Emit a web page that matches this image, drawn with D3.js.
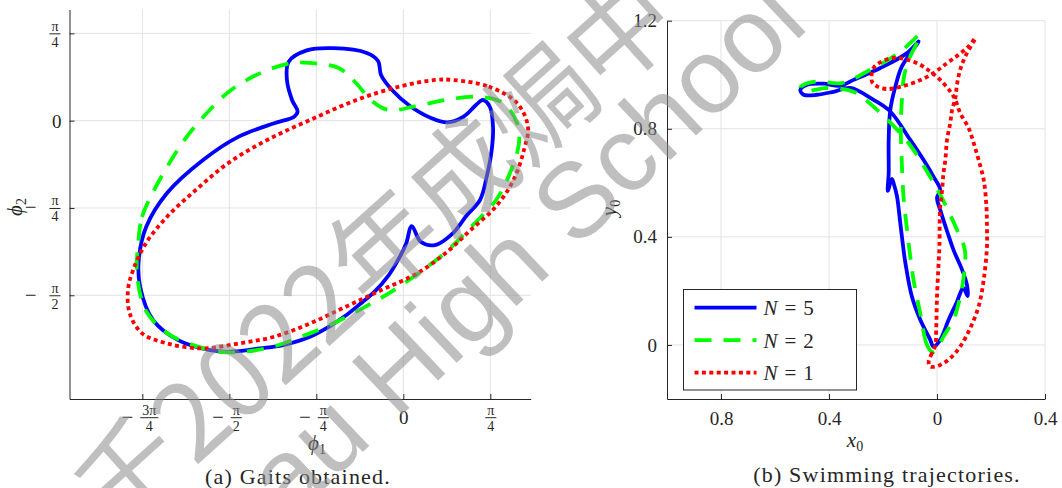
<!DOCTYPE html>
<html>
<head>
<meta charset="utf-8">
<script src="https://cdn.jsdelivr.net/npm/d3@7"></script>
<style>
  html, body { margin: 0; padding: 0; background: #fff; }
  svg { display: block; }
</style>
</head>
<body>
<svg id="chart" width="1062" height="488"></svg>
<script>
// ---- data -------------------------------------------------------------

// (a) gaits in the (phi1, phi2) plane, radians
const gaitN5 = [
  [-0.955, 0.081], [-1.005, 0.186], [-1.051, 0.366], [-1.035, 0.531], [-0.872, 0.632],
  [-0.632, 0.652], [-0.330, 0.609], [-0.228, 0.537], [-0.201, 0.411], [-0.102, 0.276],
  [0.060, 0.132], [0.250, 0.024], [0.399, -0.016], [0.544, 0.036], [0.656, 0.141],
  [0.719, 0.186], [0.782, 0.123], [0.810, -0.057], [0.798, -0.264], [0.753, -0.504],
  [0.692, -0.714], [0.575, -0.849], [0.449, -1.011], [0.286, -1.119], [0.157, -1.089],
  [0.076, -0.948], [0.024, -1.110], [-0.048, -1.254], [-0.138, -1.398], [-0.255, -1.533],
  [-0.391, -1.650], [-0.526, -1.758], [-0.662, -1.848], [-0.842, -1.944], [-1.086, -2.019],
  [-1.294, -2.049], [-1.555, -2.079], [-1.745, -2.064], [-2.033, -1.974], [-2.259, -1.794],
  [-2.376, -1.497], [-2.389, -1.254], [-2.322, -0.957], [-2.133, -0.651], [-1.808, -0.354],
  [-1.486, -0.144], [-1.166, -0.023], [-0.986, 0.036]
];
const gaitN2 = [
  [-2.395, -1.119], [-2.359, -0.867], [-2.250, -0.624], [-2.133, -0.417], [-1.985, -0.185],
  [-1.807, 0.033], [-1.555, 0.276], [-1.261, 0.441], [-1.005, 0.519], [-0.842, 0.519],
  [-0.584, 0.474], [-0.427, 0.339], [-0.294, 0.186], [-0.133, 0.096], [0.093, 0.126],
  [0.383, 0.186], [0.674, 0.216], [0.900, 0.159], [1.026, -0.021], [1.044, -0.201],
  [0.963, -0.471], [0.837, -0.714], [0.611, -0.957], [0.385, -1.182], [0.151, -1.362],
  [-0.084, -1.524], [-0.365, -1.686], [-0.662, -1.839], [-0.932, -1.947], [-1.158, -2.028],
  [-1.429, -2.078], [-1.654, -2.079], [-1.898, -2.019], [-2.133, -1.911], [-2.322, -1.713],
  [-2.404, -1.389]
];
const gaitN1 = [
  [0.449, 0.366], [0.770, 0.306], [1.026, 0.159], [1.125, -0.054], [1.089, -0.264],
  [0.995, -0.534], [0.834, -0.774], [0.608, -0.984], [0.383, -1.191], [0.124, -1.374],
  [-0.198, -1.524], [-0.520, -1.674], [-0.842, -1.824], [-1.167, -1.944], [-1.486, -2.004],
  [-1.808, -2.049], [-2.133, -2.004], [-2.358, -1.914], [-2.470, -1.734], [-2.486, -1.524],
  [-2.440, -1.344], [-2.325, -1.104], [-2.133, -0.864], [-1.874, -0.624], [-1.583, -0.383],
  [-1.230, -0.174], [-0.842, 0.006], [-0.423, 0.186], [-0.039, 0.306], [0.286, 0.366]
];

// (b) swimming trajectories (x0, y0)
const trajN5 = [
  [-0.013, -0.006], [0.012, 0.019], [0.043, 0.093], [0.074, 0.160], [0.097, 0.211],
  [0.113, 0.181], [0.111, 0.222], [0.093, 0.278], [0.061, 0.352], [0.038, 0.419],
  [0.012, 0.500], [0.000, 0.544], [0.012, 0.574], [-0.013, 0.623], [-0.050, 0.685],
  [-0.099, 0.759], [-0.173, 0.864], [-0.235, 0.907], [-0.321, 0.951], [-0.383, 0.937],
  [-0.444, 0.926], [-0.494, 0.926], [-0.506, 0.944], [-0.481, 0.963], [-0.420, 0.967],
  [-0.358, 0.959], [-0.309, 0.981], [-0.210, 1.025], [-0.111, 1.080], [-0.068, 1.123],
  [-0.130, 1.031], [-0.154, 0.957], [-0.173, 0.870], [-0.179, 0.759], [-0.179, 0.636],
  [-0.182, 0.570], [-0.167, 0.615], [-0.158, 0.589], [-0.148, 0.549], [-0.136, 0.451],
  [-0.124, 0.352], [-0.117, 0.303], [-0.093, 0.179], [-0.062, 0.093], [-0.025, 0.019]
];
const trajN2 = [
  [-0.017, -0.026], [-0.037, 0.000], [-0.062, 0.117], [-0.087, 0.241], [-0.099, 0.327],
  [-0.111, 0.426], [-0.124, 0.549], [-0.130, 0.667], [-0.134, 0.796], [-0.130, 0.907],
  [-0.121, 1.000], [-0.099, 1.068], [-0.062, 1.148], [-0.142, 1.080], [-0.259, 1.012],
  [-0.352, 0.969], [-0.444, 0.975], [-0.494, 0.963], [-0.506, 0.952], [-0.481, 0.941],
  [-0.407, 0.951], [-0.309, 0.937], [-0.222, 0.870], [-0.136, 0.784], [-0.087, 0.722],
  [-0.037, 0.642], [0.012, 0.556], [0.074, 0.426], [0.103, 0.352], [0.099, 0.253],
  [0.080, 0.154], [0.061, 0.093], [0.024, 0.031], [-0.003, -0.019]
];
const trajN1 = [
  [-0.006, 0.000], [-0.019, -0.031], [-0.031, -0.062], [-0.025, -0.080], [0.012, -0.074],
  [0.049, -0.049], [0.086, -0.006], [0.123, 0.062], [0.154, 0.142], [0.173, 0.241],
  [0.185, 0.364], [0.185, 0.438], [0.183, 0.512], [0.173, 0.611], [0.154, 0.685],
  [0.136, 0.747], [0.117, 0.803], [0.086, 0.858], [0.068, 0.907], [0.049, 0.938],
  [0.012, 0.981], [-0.025, 1.012], [-0.062, 1.037], [-0.111, 1.056], [-0.161, 1.062],
  [-0.204, 1.049], [-0.235, 1.025], [-0.241, 0.975], [-0.222, 0.957], [-0.185, 0.947],
  [-0.130, 0.957], [-0.074, 0.975], [-0.013, 1.006], [0.037, 1.043], [0.080, 1.074],
  [0.117, 1.105], [0.142, 1.136], [0.105, 1.068], [0.086, 1.019], [0.074, 0.963],
  [0.068, 0.914], [0.056, 0.870], [0.049, 0.821], [0.037, 0.759], [0.031, 0.685],
  [0.024, 0.636], [0.019, 0.574], [0.012, 0.512], [0.010, 0.451], [0.009, 0.364],
  [0.006, 0.303], [0.000, 0.179], [-0.003, 0.056]
];

const legendN = [5, 2, 1];

// ticks
const phi1Ticks = [-3 * Math.PI / 4, -Math.PI / 2, -Math.PI / 4, 0, Math.PI / 4];
const phi1TickLabels = [["−", "3π", "4"], ["−", "π", "2"], ["−", "π", "4"], "0", ["", "π", "4"]];
const phi2Ticks = [-Math.PI / 2, -Math.PI / 4, 0, Math.PI / 4];
const phi2TickLabels = [["−", "π", "2"], ["−", "π", "4"], "0", ["", "π", "4"]];
const x0Ticks = [-0.8, -0.4, 0, 0.4];
const x0TickLabels = ["0.8", "0.4", "0", "0.4"];
const y0Ticks = [0, 0.4, 0.8, 1.2];
const y0TickLabels = ["0", "0.4", "0.8", "1.2"];

const captions = ["(a) Gaits obtained.", "(b) Swimming trajectories."];
const watermarkLines = ["千2022年成焗中", "au High School"];

// ---- drawing ----------------------------------------------------------

const serif = "'Liberation Serif', 'Times New Roman', 'DejaVu Serif', serif";
const svg = d3.select("#chart").attr("font-family", serif);
const ink = "#262626";
const gridColor = "#e2e2e2";
const styles = [
  { color: "#0000ff", dash: null },
  { color: "#00ff00", dash: "17,12" },
  { color: "#ff0000", dash: "4,3.4" }
];

const gaitX = d3.scaleLinear().domain([-3.014, 1.15]).range([69.5, 530.7]);
const gaitY = d3.scaleLinear().domain([-2.504, 1.0]).range([399, 9.5]);
const trajX = d3.scaleLinear().domain([-1.0, 0.4]).range([667, 1045]);
const trajY = d3.scaleLinear().domain([-0.2, 1.2]).range([399, 20.7]);

function drawGrid(x, y, xt, yt) {
  const g = svg.append("g").attr("stroke", gridColor).attr("stroke-width", 1);
  g.selectAll(".gv").data(xt).join("line")
    .attr("x1", d => x(d)).attr("x2", d => x(d))
    .attr("y1", y.range()[0]).attr("y2", y.range()[1]);
  g.selectAll(".gh").data(yt).join("line")
    .attr("y1", d => y(d)).attr("y2", d => y(d))
    .attr("x1", x.range()[0]).attr("x2", x.range()[1]);
}

// fraction tick labels like -3π/4, built as one text element
function fracLabel(tick, spec, mode) {
  const g = tick.append("g").attr("fill", ink).attr("font-family", serif);
  if (typeof spec === "string") {
    g.append("text").text(spec).attr("font-size", 19)
      .attr("text-anchor", mode === "bottom" ? "middle" : "end")
      .attr("x", mode === "bottom" ? 0 : -8)
      .attr("y", mode === "bottom" ? 25 : 6.5);
    return;
  }
  const [sign, num, den] = spec;
  const t = g.append("text");
  const minus = sign ? t.append("tspan").attr("font-size", 21).text(sign) : null;
  const numT = t.append("tspan").attr("font-size", 14).attr("text-anchor", "middle").text(num);
  const denT = t.append("tspan").attr("font-size", 14).attr("text-anchor", "middle").text(den);
  const mw = minus ? minus.node().getComputedTextLength() : 0;
  const fw = Math.max(numT.node().getComputedTextLength(), denT.node().getComputedTextLength()) + 4;
  const gap = minus ? 1 : 0;
  const total = mw + gap + fw;
  const left = mode === "bottom" ? -total / 2 : -9 - total;
  const barY = mode === "bottom" ? 18.7 : 0;
  if (minus) minus.attr("x", left).attr("y", barY + 6);
  const cx = left + mw + gap + fw / 2;
  numT.attr("x", cx).attr("y", barY - 3.2);
  denT.attr("x", cx).attr("y", barY + 12.8);
  g.append("line")
    .attr("x1", left + mw + gap).attr("x2", left + total)
    .attr("y1", barY).attr("y2", barY)
    .attr("stroke", ink).attr("stroke-width", 1);
}

function styleAxis(g) {
  g.attr("font-size", null).attr("font-family", serif);
  g.select(".domain").attr("stroke", ink);
  g.selectAll(".tick line").attr("stroke", ink);
  g.selectAll(".tick text").attr("fill", ink).attr("font-size", 19);
}

// panel (a)
drawGrid(gaitX, gaitY, phi1Ticks, phi2Ticks);

const gaitXAxis = svg.append("g")
  .attr("transform", "translate(0,399)")
  .call(d3.axisBottom(gaitX).tickValues(phi1Ticks).tickSizeInner(-5).tickSizeOuter(0).tickFormat(() => ""));
styleAxis(gaitXAxis);
gaitXAxis.selectAll(".tick").each(function (d, i) {
  const t = d3.select(this);
  t.select("text").remove();
  fracLabel(t, phi1TickLabels[i], "bottom");
});

const gaitYAxis = svg.append("g")
  .attr("transform", "translate(69.5,0)")
  .call(d3.axisLeft(gaitY).tickValues(phi2Ticks).tickSizeInner(-5).tickSizeOuter(0).tickFormat(() => ""));
styleAxis(gaitYAxis);
gaitYAxis.selectAll(".tick").each(function (d, i) {
  const t = d3.select(this);
  t.select("text").remove();
  fracLabel(t, phi2TickLabels[i], "left");
});

// panel (b)
drawGrid(trajX, trajY, x0Ticks, y0Ticks);

const trajXAxis = svg.append("g")
  .attr("transform", "translate(0,399)")
  .call(d3.axisBottom(trajX).tickValues(x0Ticks).tickSizeInner(-5).tickSizeOuter(0)
    .tickPadding(12.5).tickFormat((d, i) => x0TickLabels[i]));
styleAxis(trajXAxis);

const trajYAxis = svg.append("g")
  .attr("transform", "translate(667,0)")
  .call(d3.axisLeft(trajY).tickValues(y0Ticks).tickSizeInner(-5).tickSizeOuter(0)
    .tickPadding(10).tickFormat((d, i) => y0TickLabels[i]));
styleAxis(trajYAxis);

// curves
const gaitLine = d3.line().x(d => gaitX(d[0])).y(d => gaitY(d[1]))
  .curve(d3.curveCatmullRomClosed.alpha(0.5));
const trajLine = d3.line().x(d => trajX(d[0])).y(d => trajY(d[1]))
  .curve(d3.curveCatmullRomClosed.alpha(0.5));

function drawCurves(data, line) {
  svg.append("g").attr("fill", "none")
    .selectAll("path").data(data).join("path")
    .attr("d", line)
    .attr("stroke", (d, i) => styles[i].color)
    .attr("stroke-width", 3.8)
    .attr("stroke-linejoin", "round")
    .attr("stroke-dasharray", (d, i) => styles[i].dash);
}
drawCurves([gaitN5, gaitN2, gaitN1], gaitLine);
drawCurves([trajN5, trajN2, trajN1], trajLine);

// axis labels
function mathLabel(x, y, sym, sub, rotate) {
  const t = svg.append("text")
    .attr("transform", `translate(${x},${y})` + (rotate ? " rotate(-90)" : ""))
    .attr("text-anchor", "middle").attr("fill", ink).attr("font-family", serif);
  t.append("tspan").attr("font-style", "italic").attr("font-size", 21).text(sym);
  t.append("tspan").attr("font-size", 14).attr("dy", 4).text(sub);
}
mathLabel(317, 450, "ϕ", "1", false);
mathLabel(22, 207, "ϕ", "2", true);
mathLabel(855, 447, "x", "0", false);
mathLabel(616, 208, "y", "0", true);

// legend
const legend = svg.append("g").attr("transform", "translate(683.5,289.5)");
legend.append("rect").attr("width", 173).attr("height", 100.5)
  .attr("fill", "#fff").attr("stroke", ink).attr("stroke-width", 1);
const rows = legend.selectAll(".row").data(legendN).join("g")
  .attr("transform", (d, i) => `translate(0,${18.2 + i * 32.5})`);
rows.append("line").attr("x1", 11).attr("x2", 73)
  .attr("stroke", (d, i) => styles[i].color)
  .attr("stroke-width", 3.8)
  .attr("stroke-dasharray", (d, i) => styles[i].dash);
const rowText = rows.append("text").attr("x", 80).attr("y", 7.5)
  .attr("font-size", 21).attr("fill", ink).attr("font-family", serif);
rowText.append("tspan").attr("font-style", "italic").text("N");
rowText.append("tspan").attr("dx", 7).text("=");
rowText.append("tspan").attr("dx", 7).text(d => d);

// captions
svg.append("text").attr("x", 298).attr("y", 484).attr("text-anchor", "middle")
  .attr("font-size", 22).attr("letter-spacing", 1.2).attr("fill", ink)
  .attr("font-family", serif).text(captions[0]);
svg.append("text").attr("x", 887).attr("y", 482).attr("text-anchor", "middle")
  .attr("font-size", 22).attr("letter-spacing", 1.2).attr("fill", ink)
  .attr("font-family", serif).text(captions[1]);

// watermark
const wm = svg.append("g").attr("fill", "#8c8c8c").attr("opacity", 0.55);
wm.append("text").attr("transform", "translate(116,538) rotate(-42)")
  .attr("font-family", "'Noto Sans CJK SC', sans-serif").attr("font-size", 106).text(watermarkLines[0]);
wm.append("text").attr("transform", "translate(289,522) rotate(-43.5)")
  .attr("font-family", "'Liberation Sans', Arial, sans-serif").attr("font-size", 106).text(watermarkLines[1]);
</script>
</body>
</html>
